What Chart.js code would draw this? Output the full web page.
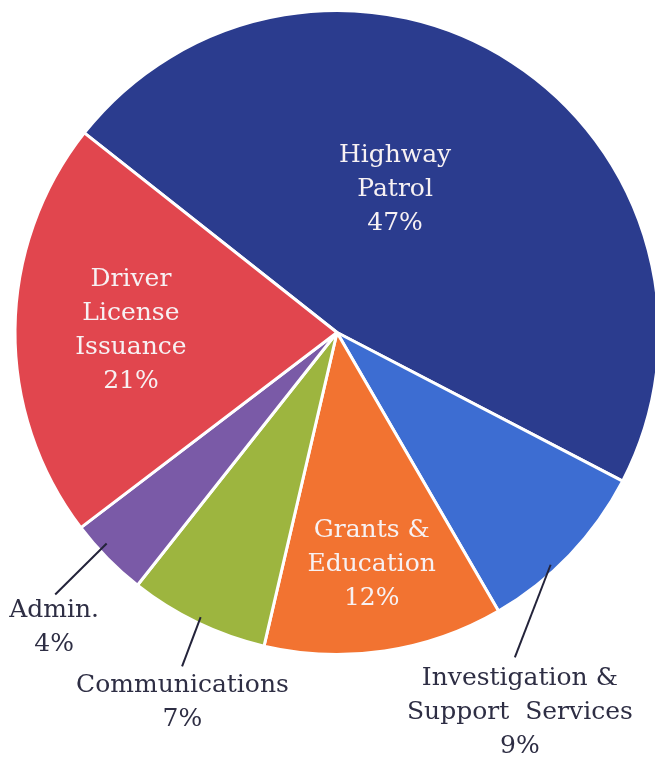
<!DOCTYPE html>
<html lang="en">
<head>
    <meta charset="UTF-8" />
    <title>Budget by Division</title>
    <script src="https://cdn.jsdelivr.net/npm/chart.js"></script>
    <style>
        html, body { margin: 0; padding: 0; background: #fff; overflow: hidden; }
        #wrap { position: relative; width: 674px; height: 758px; }
    </style>
</head>
<body>
    <div id="wrap">
        <canvas id="pieChart" width="674" height="758"></canvas>
    </div>
    <script>
        // slices, clockwise from the top-left boundary
        const categories = ["Highway Patrol", "Investigation & Support Services", "Grants & Education",
                            "Communications", "Admin.", "Driver License Issuance"];
        const values = [47, 9, 12, 7, 4, 21];
        // label text split into lines (the percent is added as last line)
        const labelLines = [
            ["Highway", "Patrol"],
            ["Investigation &", "Support  Services"],
            ["Grants &", "Education"],
            ["Communications"],
            ["Admin."],
            ["Driver", "License", "Issuance"]
        ];
        const colors = ["#2b3c8e", "#3d6dd2", "#f27331", "#9db53f", "#7a5aa7", "#e1464e"];

        // where each label sits: t = fraction across the slice angle, r = fraction of radius
        const labelPlace = [
            { t: 0.436, r: 0.48, inside: true },
            { t: 1.136, r: 1.31, inside: false, line: [0.614, 0.98, 1.043, 1.15] },
            { t: 0.5, r: 0.73, inside: true },
            { t: 0.38, r: 1.245, inside: false, line: [0.496, 0.98, 0.468, 1.143] },
            { t: 0.38, r: 1.27, inside: false, line: [0.64, 0.97, 0.61, 1.195] },
            { t: 0.5, r: 0.64, inside: true }
        ];

        const sliceLabels = {
            id: "sliceLabels",
            afterDatasetsDraw(chart) {
                const ctx = chart.ctx;
                const arcs = chart.getDatasetMeta(0).data;
                ctx.save();
                ctx.font = "25px 'DejaVu Serif'";
                ctx.textAlign = "center";
                ctx.textBaseline = "middle";
                arcs.forEach((arc, i) => {
                    const { x, y, startAngle, endAngle, outerRadius } = arc.getProps(["x", "y", "startAngle", "endAngle", "outerRadius"], true);
                    const p = labelPlace[i];
                    const at = (t, r) => {
                        const a = startAngle + t * (endAngle - startAngle);
                        return [x + Math.cos(a) * outerRadius * r, y + Math.sin(a) * outerRadius * r];
                    };
                    if (p.line) {
                        const [x1, y1] = at(p.line[0], p.line[1]);
                        const [x2, y2] = at(p.line[2], p.line[3]);
                        ctx.strokeStyle = "#23233a";
                        ctx.lineWidth = 2;
                        ctx.beginPath();
                        ctx.moveTo(x1, y1);
                        ctx.lineTo(x2, y2);
                        ctx.stroke();
                    }
                    const lines = labelLines[i].concat([values[i] + "%"]);
                    const lh = 34;
                    const [cx, cy] = at(p.t, p.r);
                    ctx.fillStyle = p.inside ? "#f7f1f3" : "#2e2e44";
                    lines.forEach((s, k) => {
                        ctx.fillText(s, cx, cy + (k - (lines.length - 1) / 2) * lh);
                    });
                });
                ctx.restore();
            }
        };

        new Chart(document.getElementById("pieChart"), {
            type: "pie",
            data: {
                labels: categories,
                datasets: [{
                    data: values,
                    backgroundColor: colors,
                    borderColor: "#ffffff",
                    borderWidth: 3
                }]
            },
            options: {
                responsive: false,
                animation: false,
                rotation: -51.7,
                layout: { padding: { top: 9, bottom: 102, left: 0, right: 0 } },
                plugins: {
                    legend: { display: false },
                    tooltip: { enabled: false }
                }
            },
            plugins: [sliceLabels]
        });
    </script>
</body>
</html>
